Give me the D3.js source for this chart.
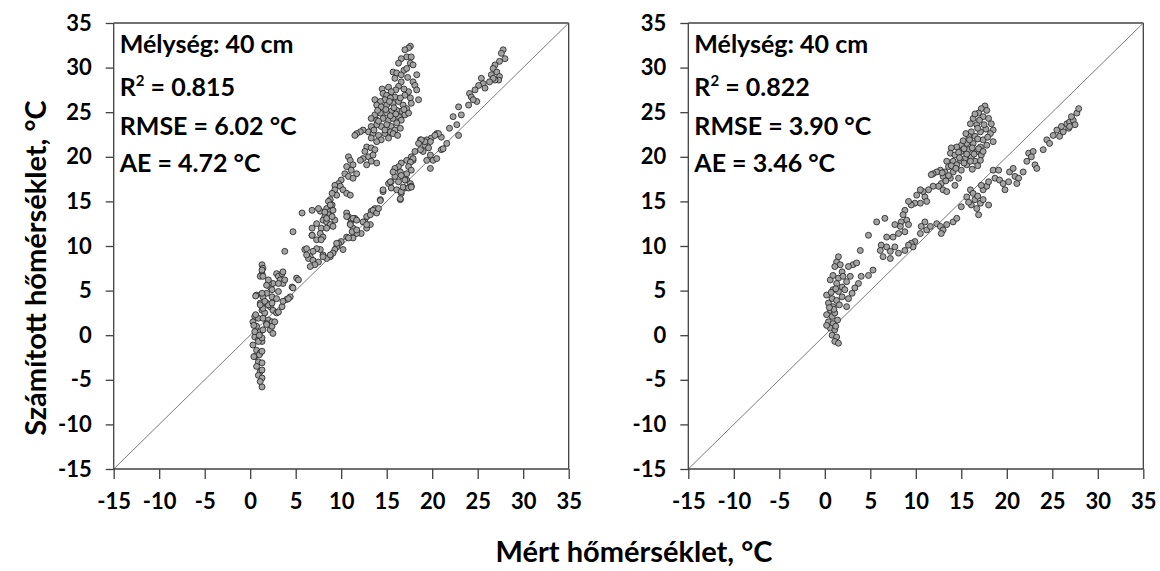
<!DOCTYPE html>
<html>
<head>
<meta charset="utf-8">
<script src="https://cdn.jsdelivr.net/npm/d3@7"></script>
<style>
  body { margin: 0; background: #fff; }
  svg { display: block; }
  text { font-family: Lato, "Noto Sans", sans-serif; font-weight: bold; fill: #000; }
</style>
</head>
<body>
<svg id="chart" width="1160" height="571"></svg>
<script>
// Tengelyek
const axisTicks = [-15, -10, -5, 0, 5, 10, 15, 20, 25, 30, 35];
const xTitle = "Mért hőmérséklet, °C";
const yTitle = "Számított hőmérséklet, °C";

// Statisztikák (bal, jobb panel)
const depthLabels = ["Mélység: 40 cm", "Mélység: 40 cm"];
const r2Values = ["0.815", "0.822"];
const rmseValues = ["6.02", "3.90"];
const aeValues = ["4.72", "3.46"];

// Bal panel: [mért, számított]
const pointsLeft = [
  [17.6,32.4],[17.4,32.2],[17.0,32.0],[17.2,31.2],[16.6,31.0],[17.7,31.2],[17.6,30.5],[17.9,30.3],[16.3,30.5],[15.7,29.5],
  [16.1,29.4],[16.6,29.2],[15.9,28.8],[18.3,29.2],[17.9,28.4],[18.1,28.0],[18.3,27.5],[18.5,26.4],[17.4,27.3],[17.0,26.9],
  [16.6,28.4],[16.3,27.9],[17.3,28.9],[16.9,29.7],[17.2,29.9],[14.5,27.6],[15.2,27.8],[16.0,27.5],[16.9,27.6],
  [14.6,27.1],[15.0,26.9],[15.5,27.3],[15.9,26.7],[15.4,26.6],[14.8,26.4],[14.3,26.2],[13.7,26.4],[13.9,25.8],[14.4,25.6],
  [15.0,25.8],[15.7,26.0],[16.3,26.2],[16.8,25.8],[17.6,26.6],[17.7,26.0],[17.2,25.4],[16.6,25.1],[16.1,25.2],[15.5,25.1],
  [15.0,24.9],[14.3,24.9],[13.7,24.7],[13.3,24.3],[13.9,24.1],[14.6,24.3],[15.2,24.1],[15.7,24.3],[16.3,24.5],[17.0,24.7],
  [17.4,24.9],[16.6,24.1],[16.1,23.8],[15.5,23.4],[15.0,23.6],[14.4,23.4],[13.9,23.6],[13.3,23.4],[13.0,22.8],[12.4,23.0],
  [12.1,22.8],[11.7,22.6],[11.5,22.4],[13.5,22.6],[14.1,22.4],[14.8,22.6],[15.4,22.8],[15.9,23.0],[16.5,23.2],[15.2,22.1],
  [14.4,21.9],[13.9,21.7],[13.3,22.1],[14.0,25.2],[14.9,25.3],[15.8,25.5],[16.5,26.6],[15.3,26.2],[14.1,24.0],[15.4,24.6],
  [16.9,25.3],[16.0,24.8],[14.8,23.0],[15.7,22.6],[16.2,22.4],[13.6,23.0],
  [12.8,21.1],[13.3,21.0],[13.7,20.8],[12.6,20.6],[13.0,20.0],[12.4,19.8],[12.1,19.6],[13.5,20.2],[13.3,19.5],[13.9,19.3],
  [12.8,19.1],[10.8,20.0],[11.0,19.6],[11.3,19.1],[10.6,18.9],[11.1,18.5],[11.7,18.1],[10.4,18.1],[10.8,17.8],[11.3,17.6],
  [10.0,17.4],[9.7,17.0],[9.3,16.8],[9.9,16.7],[10.2,16.3],[10.6,15.9],[11.0,15.7],[9.3,16.3],[9.5,15.7],[9.0,15.9],
  [8.8,15.2],[8.6,15.0],[9.0,14.6],[8.4,14.2],[8.8,13.9],[8.6,13.5],[8.2,13.3],[8.0,12.9],[8.4,12.7],[8.8,12.4],
  [9.1,12.2],[9.3,12.9],[7.8,12.0],[7.7,11.4],[8.0,11.0],[7.3,10.7],[6.8,14.0],[7.7,13.9],[5.7,13.7],[4.7,11.6],
  [3.8,9.4],[6.8,11.2],[7.5,14.2],[8.2,13.8],[8.4,13.1],[9.0,13.3],[9.1,14.0],[8.8,14.6],[8.4,12.0],[7.3,12.5],[6.8,12.0],
  [20.5,22.6],[19.9,22.1],[19.4,21.9],[18.7,21.9],[19.2,21.3],[19.6,21.0],[19.8,20.2],[20.1,19.6],[19.0,20.6],[18.1,20.6],
  [17.7,20.0],[17.9,19.6],[17.2,19.6],[16.6,19.3],[16.3,18.9],[15.9,18.7],[16.5,18.3],[16.8,17.8],[17.2,17.4],[17.6,17.0],
  [17.7,16.7],[17.0,16.5],[16.6,15.9],[16.5,15.2],[15.9,17.8],[15.5,17.2],[15.2,17.0],[14.6,16.1],[14.3,15.2],[13.7,14.2],
  [13.3,13.9],[12.8,13.3],[12.6,12.7],[12.8,12.0],[13.2,12.4],[12.2,11.4],[11.7,11.4],[11.3,10.9],[10.6,13.7],[10.8,13.3],
  [11.1,12.9],[11.5,13.1],[11.0,12.5],[11.3,12.0],[10.6,11.0],[10.0,10.5],[9.7,10.3],[9.5,9.9],[9.3,9.6],[9.1,9.2],
  [8.8,8.8],[8.4,8.6],[8.0,9.0],[7.7,9.6],[7.3,9.7],[6.9,9.4],[6.6,8.8],[6.4,8.6],[6.0,9.6],[6.2,9.0],
  [6.9,8.4],[7.5,8.2],[7.1,7.9],[6.6,7.7],[6.2,9.7],[6.8,11.2],[7.8,10.7],[8.0,8.8],[8.8,9.0],[9.5,10.3],
  [10.2,9.6],[10.8,10.9],[11.2,11.6],[11.0,12.4],[11.7,11.8],[10.6,13.3],[11.3,13.1],[11.7,12.9],[12.4,12.7],[12.8,12.4],
  [13.2,13.5],[13.5,14.0],[13.9,13.7],
  [27.8,32.0],[27.6,31.6],[28.0,31.0],[27.4,30.7],[26.9,30.3],[26.7,29.9],[27.1,29.5],[26.5,29.2],[27.4,29.0],[27.3,28.6],
  [26.9,28.6],[26.7,28.8],[26.3,28.4],[25.4,28.8],[25.6,28.2],[25.1,28.0],[25.8,27.7],[24.7,27.5],[24.1,27.1],[24.3,26.7],
  [24.9,26.2],[24.5,26.4],[24.0,25.8],[22.9,25.6],[23.2,24.7],[22.3,24.5],[22.7,23.6],[21.9,23.2],[22.9,22.4],[21.6,21.5],
  [21.0,22.2],[20.7,22.6],[20.3,22.4],[19.8,21.7],[19.2,21.7],[18.8,21.9],[18.5,21.5],[18.7,20.8],[21.0,20.8],[21.2,20.9],
  [20.5,19.8],[19.8,18.7],[19.4,19.6],[17.9,19.8],[17.6,19.4],[17.4,18.9],[17.7,18.5],[17.2,18.1],[17.0,17.4],[16.6,17.9],
  [16.3,17.2],[15.7,18.3],[15.4,17.2],[15.5,16.5],[16.1,16.3],[16.6,16.1],[16.8,16.6],[17.4,16.5],[17.7,16.6],[14.6,16.3],
  [14.3,15.1],[14.1,14.2],[16.5,15.3],
  [1.3,7.9],[1.4,7.5],[1.3,6.9],[1.1,6.6],[2.2,5.4],[2.4,5.1],[2.9,6.9],[3.1,6.6],[3.5,6.9],[3.3,6.2],
  [3.6,5.8],[2.5,5.8],[2.0,5.8],[1.8,4.7],[2.4,4.3],[2.9,4.1],[1.4,4.3],[0.7,4.5],[1.1,3.6],[1.8,3.6],
  [2.2,3.2],[2.5,2.8],[1.3,2.8],[1.6,2.5],[0.5,2.1],[0.9,1.9],[1.4,1.9],[2.0,1.7],[2.4,1.5],[2.9,2.5],
  [3.5,3.2],[4.0,4.0],[4.4,4.3],[5.1,6.4],[4.6,5.4],[0.3,1.5],[0.7,1.0],[1.1,0.4],[1.4,0.6],[0.5,-0.2],
  [0.9,-0.5],[1.3,-0.7],[0.3,-1.1],[0.7,-1.7],[1.1,-2.0],[0.5,-2.4],[0.9,-3.0],[1.3,-3.1],[0.7,-3.5],[1.1,-4.1],
  [0.9,-4.5],[1.3,-4.8],[1.1,-5.2],[1.3,-5.8],[1.8,1.3],[2.2,0.6],[2.5,0.2],[2.4,1.0],[1.0,-2.2],[1.3,-1.8],
  [0.4,-2.4],[0.4,1.1],[1.8,1.2],[0.6,2.3],[2.7,1.5],[3.1,2.6],[1.4,3.0],[2.0,3.4],[1.1,3.4],[2.4,3.6],
  [1.6,3.8],[1.3,4.7],[0.6,4.4],[3.1,4.9],[1.8,5.6],[2.0,6.2],[1.4,6.6],[1.3,7.3],[3.6,7.1],[3.8,6.2],
  [3.1,5.8],[3.6,3.8],[4.2,4.1],[4.7,5.3],[5.3,6.2],[1.3,-3.9],[0.9,-0.7],[1.3,-0.3],[1.0,0.0],[0.5,0.4]
];

// Jobb panel: [mért, számított]
const pointsRight = [
  [17.6,25.7],[17.2,25.4],[17.8,25.2],[16.9,24.9],[17.4,24.5],[18.0,24.3],[16.3,24.3],[16.0,23.7],[16.7,23.6],[18.3,23.7],
  [18.5,23.0],[18.2,22.6],[16.1,22.8],[17.1,22.8],[15.8,22.3],[16.5,22.3],[17.4,21.9],[18.5,21.7],[17.8,21.3],[17.1,21.1],
  [16.3,21.5],[15.6,21.5],[15.0,21.3],[14.5,21.1],[13.9,21.0],[13.8,20.4],[14.3,20.2],[15.0,20.6],[15.8,20.8],[16.7,20.6],
  [17.2,20.2],[16.1,20.0],[15.4,19.8],[14.9,19.6],[14.1,19.5],[13.4,19.5],[13.6,18.9],[14.5,19.1],[15.6,19.1],[16.5,19.5],
  [17.1,19.6],[15.0,18.5],[14.1,18.3],[13.2,18.3],[12.7,18.5],[12.3,18.3],[11.9,18.1],[11.7,18.0],[13.0,17.8],[13.8,17.6],
  [14.3,16.8],[12.8,17.0],[12.5,16.7],[13.0,16.3],[13.4,16.1],[11.9,16.7],[11.4,16.3],[10.8,16.1],[10.5,16.3],[10.1,15.7],
  [11.0,15.5],[11.2,15.0],[10.5,14.8],[9.9,14.8],[9.5,14.6],[9.2,15.0],[8.8,14.0],[8.6,13.5],[9.0,12.9],[8.4,12.7],
  [9.2,12.4],[8.3,12.2],[7.7,12.4],[8.8,11.6],[8.1,11.4],[7.5,11.0],[6.8,11.0],[6.6,13.1],[5.7,12.7],[4.8,11.2],
  [3.9,9.5],[6.2,10.1],[6.8,9.9],[6.1,9.5],[7.2,9.4],[7.7,9.9],[6.4,8.8],[7.2,8.6],[8.1,9.2],[5.3,7.3],
  [4.8,6.7],[4.0,6.6],[3.7,5.8],[3.3,5.3],[3.0,4.7],[2.6,4.1],[2.4,3.2],
  [15.2,21.8],[15.9,21.9],[16.8,22.0],[16.2,21.0],[15.3,20.9],[16.9,20.9],[14.7,20.5],[16.4,20.3],[15.6,20.3],[14.8,19.9],
  [16.0,19.5],[17.4,20.6],[15.3,19.3],[13.9,19.0],[14.4,18.7],[16.8,19.0],[12.9,18.2],[13.6,17.9],[14.7,17.6],[16.2,18.6],
  [13.3,17.3],[17.7,23.1],[16.8,23.2],[17.9,22.2],[15.5,22.6],[17.0,24.1],[16.5,24.8],[17.5,23.6],
  [1.5,8.8],[1.3,8.2],[1.7,7.9],[1.1,7.7],[0.6,6.2],[0.9,6.7],[1.9,7.1],[1.5,6.4],[2.0,6.6],[1.3,5.8],
  [1.9,5.4],[0.9,5.1],[1.5,4.9],[0.2,4.5],[0.8,4.1],[1.3,3.9],[0.4,3.6],[0.9,3.2],[1.9,4.3],[2.2,5.1],
  [2.8,6.6],[3.1,7.9],[3.5,8.1],[2.6,7.7],[2.4,6.0],[0.6,2.8],[0.2,2.3],[0.8,2.1],[1.1,2.5],[0.4,1.5],
  [0.9,1.3],[0.6,0.8],[1.1,0.6],[0.8,0.0],[1.3,-0.2],[1.1,-0.7],[1.5,-0.9],[0.2,1.1],[1.2,5.2],[0.7,4.8],
  [1.6,3.4],[1.0,2.9],[1.4,1.7],[0.5,3.1],[1.2,1.0],
  [11.0,12.7],[10.6,12.2],[11.2,11.8],[10.5,11.4],[9.9,10.5],[9.5,10.3],[9.7,9.9],[8.8,9.5],[9.2,10.1],[11.6,12.2],
  [12.3,12.5],[12.7,12.2],[13.0,11.8],[13.4,12.4],[12.8,11.4],[14.1,12.7],[14.5,13.1],[15.0,14.4],[15.6,15.5],[16.0,16.3],
  [16.3,15.9],[16.5,15.2],[16.1,14.6],[16.7,14.2],[17.1,14.8],[17.4,15.2],[18.0,14.6],[16.9,13.5],[17.4,16.3],[17.8,16.7],
  [17.2,16.8],[18.0,17.2],[18.5,18.5],[19.1,18.5],[18.7,17.6],[19.2,17.4],[19.6,17.0],[20.2,17.2],[19.8,16.3],[20.3,18.3],
  [20.7,18.7],[20.9,17.8],[21.3,17.6],[21.8,18.3],[21.1,17.0],[22.2,19.5],[22.4,20.4],[22.9,20.6],[22.7,20.0],[23.1,19.1],
  [23.3,18.7],[24.0,20.8],[24.4,21.9],[24.7,21.5],[25.1,22.4],[25.5,23.0],[25.8,22.3],[26.2,22.8],[26.0,23.4],[26.6,23.7],
  [26.9,23.9],[26.8,23.2],[27.3,24.1],[27.1,24.5],[27.7,24.9],[27.9,25.4],[27.5,23.6],[26.9,23.4],[15.8,14.9],[16.8,15.6]
];

const svg = d3.select("#chart");
svg.append("rect").attr("width", 1160).attr("height", 571).attr("fill", "#fff");

// Panel-méretek
const panelW = 455;
const panelH = 446;
const panelTop = 23;
const panelLefts = [113.7, 688.3];
const panelData = [pointsLeft, pointsRight];

panelLefts.forEach((left, i) => {
  const g = svg.append("g").attr("transform", `translate(${left},${panelTop})`);

  const x = d3.scaleLinear().domain([-15, 35]).range([0, panelW]);
  const y = d3.scaleLinear().domain([-15, 35]).range([panelH, 0]);

  // keret (felső + jobb oldal)
  g.append("line").attr("x1", 0).attr("x2", panelW).attr("y1", 0).attr("y2", 0)
    .attr("stroke", "#404040").attr("stroke-width", 1.3);
  g.append("line").attr("x1", panelW).attr("x2", panelW).attr("y1", 0).attr("y2", panelH)
    .attr("stroke", "#404040").attr("stroke-width", 1.3);

  // 1:1 egyenes
  g.append("line")
    .attr("x1", x(-15)).attr("y1", y(-15))
    .attr("x2", x(35)).attr("y2", y(35))
    .attr("stroke", "#7a7a7a").attr("stroke-width", 1);

  // tengelyek (sima kötőjel a mínusz helyett, mint az eredetin)
  const fmt = d => String(d);
  const xAxis = g.append("g").attr("transform", `translate(0,${panelH})`)
    .call(d3.axisBottom(x).tickValues(axisTicks).tickFormat(fmt).tickSize(10).tickPadding(14));
  const yAxis = g.append("g")
    .call(d3.axisLeft(y).tickValues(axisTicks).tickFormat(fmt).tickSize(8).tickPadding(14));
  [xAxis, yAxis].forEach(a => {
    a.selectAll("path, line").attr("stroke", "#404040").attr("stroke-width", 1.3);
    a.select(".domain").attr("d", a === xAxis ? `M0,0H${panelW}` : `M0,0V${panelH}`);
    a.selectAll("text").style("font-family", "Lato, 'Noto Sans', sans-serif")
      .style("font-weight", "bold").style("font-size", "22px").attr("fill", "#000");
  });

  // pontok
  g.selectAll("circle.pt")
    .data(panelData[i])
    .enter()
    .append("circle")
    .attr("class", "pt")
    .attr("cx", d => x(d[0]))
    .attr("cy", d => y(d[1]))
    .attr("r", 3)
    .attr("fill", "#a3a3a3")
    .attr("stroke", "#1e1e1e")
    .attr("stroke-width", 0.8);

  // felirat
  const ann = g.append("g").attr("transform", "translate(6,0)").style("font-size", "25px");
  ann.append("text").attr("y", 29.5).text(depthLabels[i]);
  const r2 = ann.append("text").attr("y", 73);
  r2.append("tspan").text("R");
  r2.append("tspan").attr("dy", -10).style("font-size", "15px").text("2");
  r2.append("tspan").attr("dy", 10).text(" = " + r2Values[i]);
  ann.append("text").attr("y", 112).text("RMSE = " + rmseValues[i] + " °C");
  ann.append("text").attr("y", 149).text("AE = " + aeValues[i] + " °C");
});

// tengelycímek
svg.append("text")
  .attr("x", 634).attr("y", 562)
  .attr("text-anchor", "middle")
  .style("font-size", "29px")
  .text(xTitle);

svg.append("text")
  .attr("transform", "translate(46,268) rotate(-90)")
  .attr("text-anchor", "middle")
  .style("font-size", "29px")
  .text(yTitle);
</script>
</body>
</html>
